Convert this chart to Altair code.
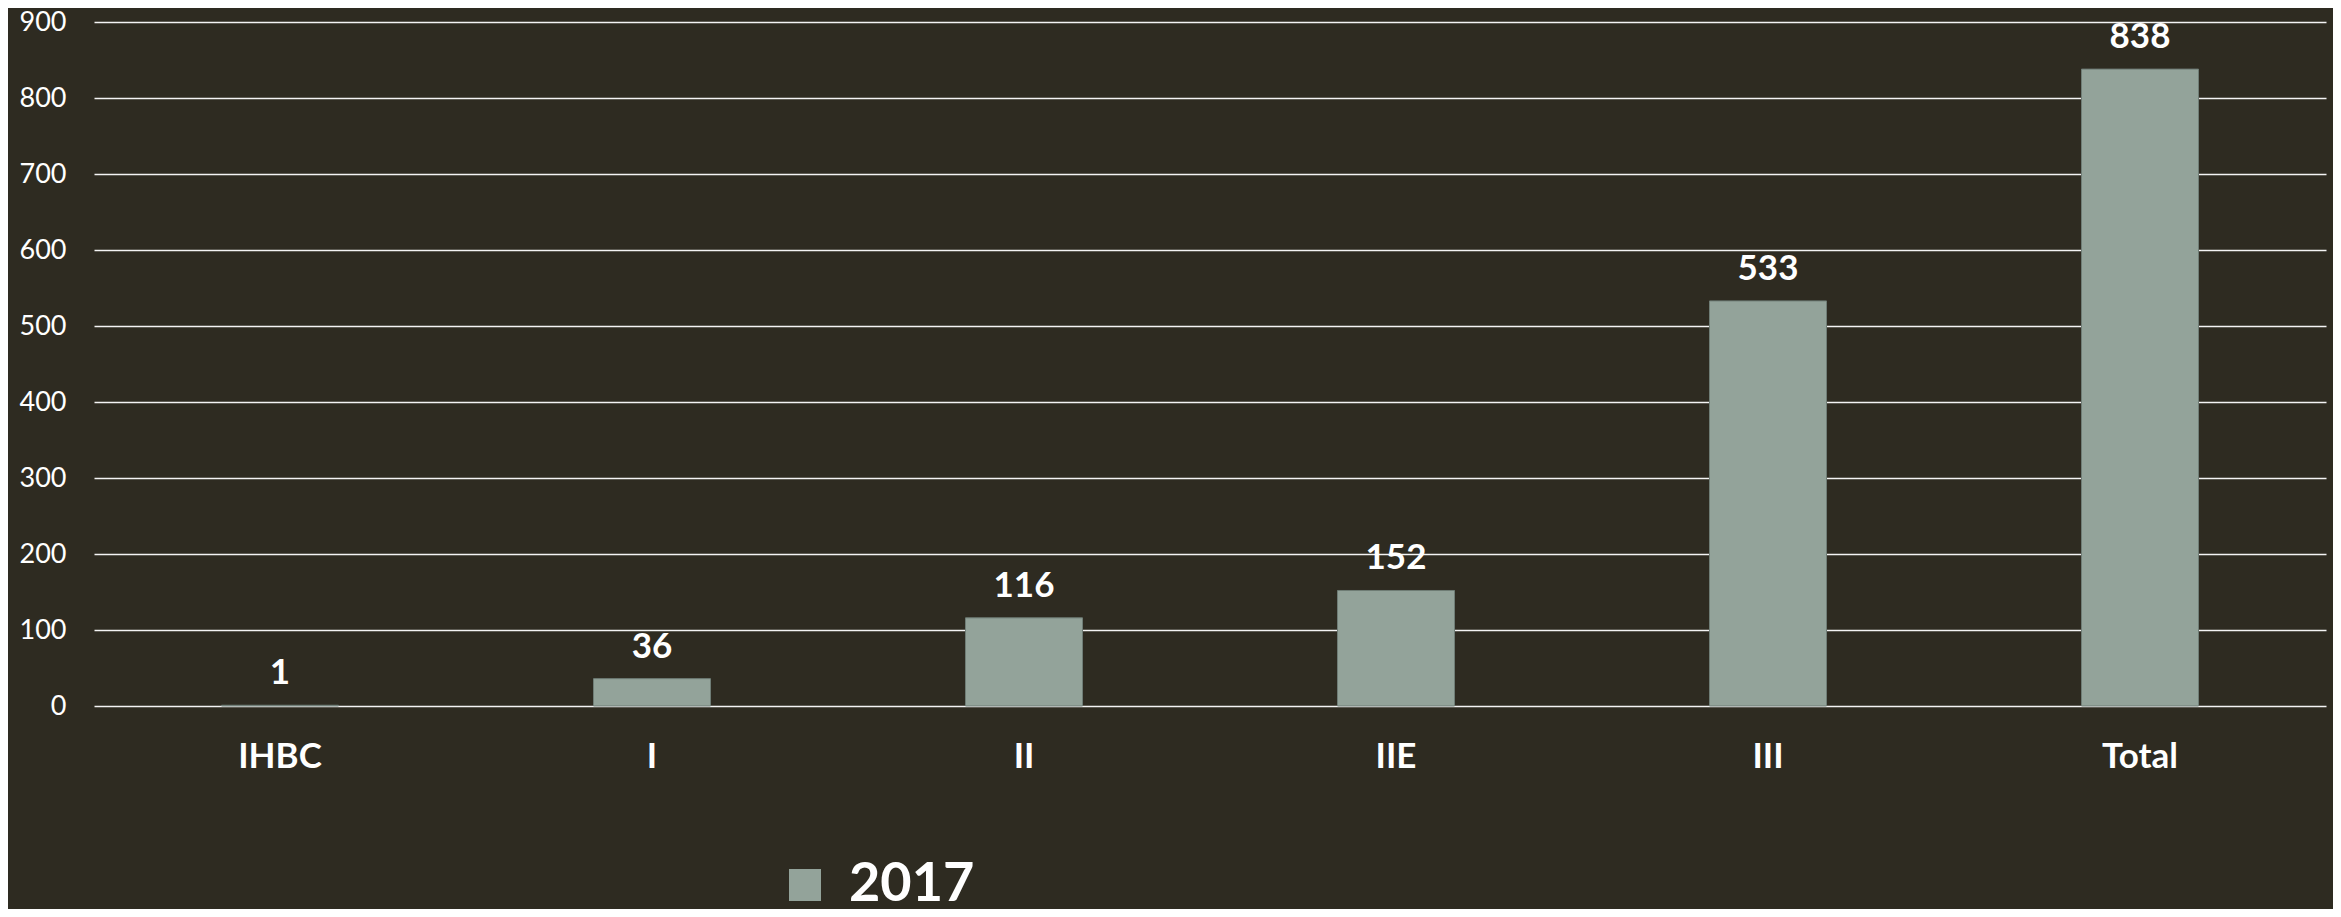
import altair as alt
import pandas as pd

categories = ["IHBC", "I", "II", "IIE", "III", "Total"]
values = [1, 36, 116, 152, 533, 838]
series = ["2017"] * len(categories)

df = pd.DataFrame({"cat": categories, "value": values, "year": series})

BG = "#2e2b21"
BAR = "#93a39a"
FONT = "Lato"

x = alt.X("cat:N", sort=categories, title=None,
          axis=alt.Axis(labelAngle=0, labelFont=FONT, labelFontWeight="bold",
                        labelFontSize=35, labelColor="#ffffff", labelPadding=33,
                        labelBaseline="top", ticks=False, domain=False, grid=False))
y = alt.Y("value:Q", title=None,
          scale=alt.Scale(domain=[0, 900], nice=False),
          axis=alt.Axis(values=list(range(0, 1000, 100)), labelFont=FONT,
                        labelFontSize=27, labelColor="#ffffff", labelPadding=28,
                        ticks=False, domain=False, grid=True, gridColor="#f4f4f4",
                        gridWidth=1.5))

bars = alt.Chart(df).mark_bar(size=117, stroke="#6f7d76", strokeWidth=1).encode(
    x=x, y=y,
    color=alt.Color("year:N", scale=alt.Scale(range=[BAR]),
                    legend=alt.Legend(title=None, orient="none", legendX=684, legendY=836,
                                      symbolType="square", symbolSize=1024,
                                      symbolStrokeWidth=0, symbolOpacity=1,
                                      labelFont=FONT, labelFontWeight="bold",
                                      labelFontSize=54, labelColor="#ffffff",
                                      labelOffset=17, labelLimit=400))
)

labels = alt.Chart(df).mark_text(
    font=FONT, fontWeight="bold", fontSize=35, color="#ffffff",
    baseline="alphabetic", dy=-21
).encode(x=alt.X("cat:N", sort=categories), y="value:Q", text="value:Q")

chart = (bars + labels).properties(
    width=2232, height=684, background=BG,
    padding={"left": 86, "top": 14, "right": 7, "bottom": 203},
    autosize=alt.AutoSizeParams(type="none")
).configure_view(stroke=None)

chart.save("out.html", embed_options={"renderer": "svg", "actions": False})
